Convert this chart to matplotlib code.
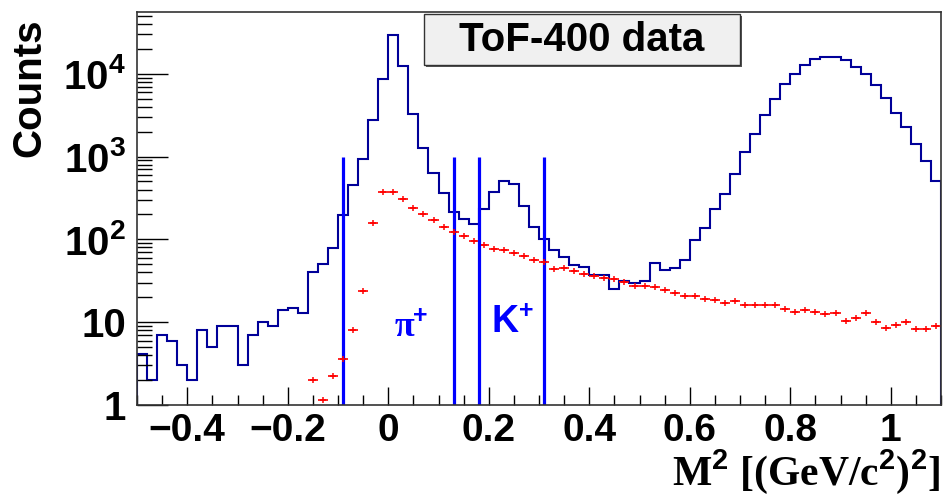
import numpy as np
import matplotlib
matplotlib.use('agg')
import matplotlib.pyplot as plt
from matplotlib.patches import Rectangle
from matplotlib.ticker import FixedLocator, NullFormatter, MultipleLocator

plt.rcParams['font.family'] = ['Liberation Sans', 'DejaVu Sans']
plt.rcParams['mathtext.fontset'] = 'custom'
plt.rcParams['mathtext.rm'] = 'Liberation Sans:bold'
plt.rcParams['mathtext.bf'] = 'Liberation Sans:bold'
plt.rcParams['mathtext.it'] = 'Liberation Sans:bold'

# histogram: M^2 from -0.5 to 1.1, 80 bins of 0.02
m2_lo, m2_hi, n_bins = -0.5, 1.1, 80
all_counts = [4.1, 2, 7, 6, 3, 2, 8, 5, 9, 9,
              3, 7, 10, 9, 14, 15, 13, 40, 50, 78,
              197, 450, 944, 2740, 8580, 29650, 12530, 3300, 1282, 634,
              363, 214, 178, 155, 231, 377, 511, 467, 253, 142,
              100, 74, 61, 49, 47, 37.5, 37.5, 25.4, 31.7, 29.7,
              31.7, 51.9, 43, 45.5, 56.9, 98, 137, 235, 353, 622,
              1127, 1876, 3155, 5000, 7460, 10030, 12880, 15100, 15960, 15800,
              14800, 12080, 9860, 7260, 5060, 3363, 2277, 1432, 885, 507]

# red points (selected sample), starting at bin 17 (M^2 = -0.15)
sel_first_bin = 17
sel_counts = [2.0, 1.15, 2.26, 3.6, 8.05, 23.8, 156, 373,
              373, 310, 239, 201, 171, 142, 122, 111, 96, 86,
              77, 75, 68, 62.5, 56.4, 53.3, 44, 44.8, 41.2, 37.9,
              35.8, 34.5, 33, 30.6, 27.6, 27.6, 26.8, 24.3, 22.7, 20.7,
              20.6, 18.9, 18.4, 17.2, 18.0, 16.0, 16.3, 16.2, 16.2, 14.3,
              13.4, 14.0, 13.4, 12.4, 12.8, 10.3, 11.1, 12.8, 10.1, 8.4,
              9.25, 10.1, 8.35, 8.2, 9.0]

# selection cuts
cut_lines = [-0.09, 0.13, 0.18, 0.31]
cut_top = 1000

edges = np.linspace(m2_lo, m2_hi, n_bins + 1)
centers = 0.5 * (edges[:-1] + edges[1:])
half_w = 0.5 * (edges[1] - edges[0])
sel_x = centers[sel_first_bin:sel_first_bin + len(sel_counts)]

fig = plt.figure(figsize=(9.45, 4.95), dpi=100, facecolor='w')
ax = fig.add_axes([0.145, 0.1818, 0.8508, 0.794])

ax.stairs(all_counts, edges, color='#000099', lw=1.5)
ax.errorbar(sel_x, sel_counts, xerr=half_w, fmt='+', color='#ff0000',
            ms=4, mew=1.1, elinewidth=1.2, capsize=0)
ax.vlines(cut_lines, 1, cut_top, color='#0000ff', lw=2.3)

ax.set_yscale('log')
ax.set_xlim(m2_lo, m2_hi)
ax.set_ylim(1, 55700)

ax.xaxis.set_minor_locator(MultipleLocator(0.05))
ax.set_xticks([-0.4, -0.2, 0, 0.2, 0.4, 0.6, 0.8, 1.0])
ax.set_xticklabels(['\u22120.4', '\u22120.2', '0', '0.2', '0.4', '0.6', '0.8', '1'])
ax.set_yticks([1, 10, 100, 1000, 10000])
ax.set_yticklabels(['1', '10', '$10^{2}$', '$10^{3}$', '$10^{4}$'])
ax.yaxis.set_minor_locator(FixedLocator(
    [m * 10 ** e for e in range(0, 5) for m in range(2, 10)]))
ax.yaxis.set_minor_formatter(NullFormatter())

ax.tick_params(axis='x', which='major', direction='in', length=13, width=1,
               labelsize=28, pad=6, top=False)
ax.tick_params(axis='x', which='minor', direction='in', length=7, width=1, top=False)
ax.tick_params(axis='y', which='major', direction='in', length=22, width=1,
               labelsize=29, pad=8, right=False)
ax.tick_params(axis='y', which='minor', direction='in', length=11, width=1, right=False)
for lab in ax.get_xticklabels() + ax.get_yticklabels():
    lab.set_fontweight('bold')
for s in ax.spines.values():
    s.set_color('#333333')
    s.set_linewidth(1.2)

# particle labels
ax.text(0.333, 0.196, '\u03c0', transform=ax.transAxes, color='#0000ff',
        fontsize=26, fontweight='bold', family='Liberation Serif',
        ha='center', va='center')
ax.text(0.352, 0.226, '+', transform=ax.transAxes, color='#0000ff',
        fontsize=18, fontweight='bold', ha='center', va='center')
ax.text(0.458, 0.210, 'K', transform=ax.transAxes, color='#0000ff',
        fontsize=27, fontweight='bold', ha='center', va='center')
ax.text(0.484, 0.240, '+', transform=ax.transAxes, color='#0000ff',
        fontsize=18, fontweight='bold', ha='center', va='center')

# title box
fig.patches.append(Rectangle((426 / 945, 1 - 67 / 495), 316 / 945, 51 / 495,
                             transform=fig.transFigure, facecolor='#555555',
                             edgecolor='none', zorder=5))
fig.patches.append(Rectangle((424 / 945, 1 - 65 / 495), 316 / 945, 51 / 495,
                             transform=fig.transFigure, facecolor='#f0f0f0',
                             edgecolor='#333333', lw=1, zorder=6))
fig.text(582 / 945, 1 - 40 / 495, 'ToF-400 data', fontsize=29, fontweight='bold',
         ha='center', va='center', zorder=7)

fig.text(0.031, 0.822, 'Counts', rotation=90, fontsize=29, fontweight='bold',
         ha='center', va='center')
fig.text(940 / 945, 10 / 495, 'M$^{2}$ [(GeV/c$^{2}$)$^{2}$]',
         fontsize=30, fontweight='bold', family='Liberation Serif',
         ha='right', va='baseline')

fig.savefig('out.png', dpi=100, facecolor='w')
